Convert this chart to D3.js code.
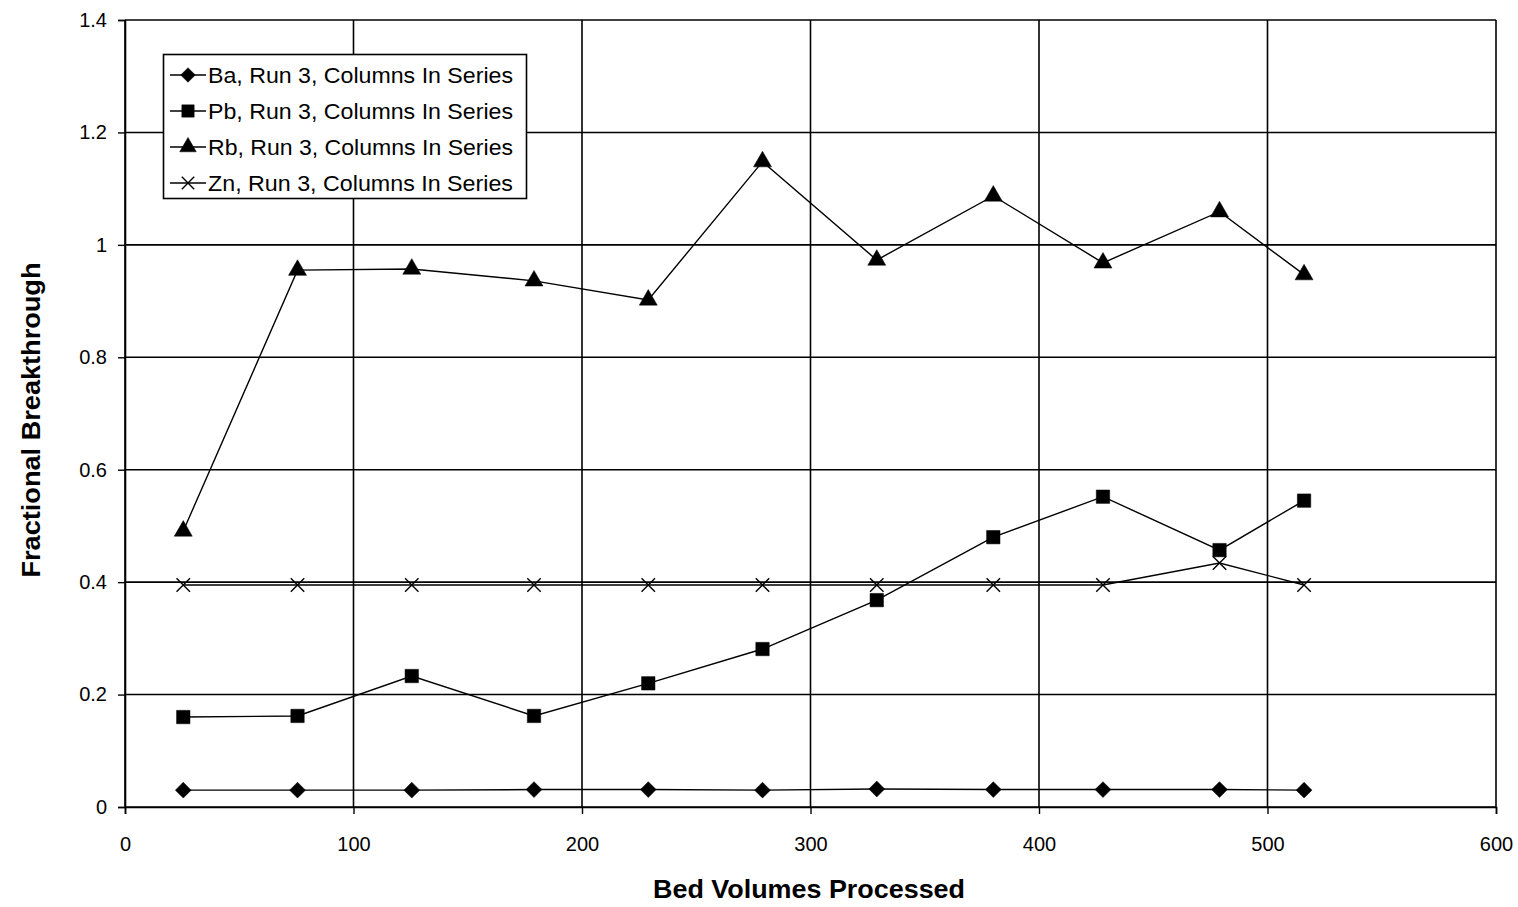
<!DOCTYPE html>
<html><head><meta charset="utf-8">
<script src="https://cdn.jsdelivr.net/npm/d3@7"></script>
<style>body{margin:0;background:#fff;} svg{display:block;font-family:"Liberation Sans",Arial,sans-serif;}</style>
</head><body>
<svg id="c" width="1518" height="907"></svg>
<script>
const bedVolumes = [25.5, 75.5, 125.5, 179, 229, 279, 329, 380, 428, 479, 516];
const ba = [0.03, 0.03, 0.03, 0.031, 0.031, 0.03, 0.032, 0.031, 0.031, 0.031, 0.03];
const pb = [0.16, 0.162, 0.233, 0.162, 0.22, 0.281, 0.368, 0.48, 0.552, 0.457, 0.545];
const rb = [0.491, 0.955, 0.957, 0.936, 0.902, 1.148, 0.973, 1.087, 0.968, 1.059, 0.947];
const zn = [0.395, 0.395, 0.395, 0.395, 0.395, 0.395, 0.395, 0.395, 0.395, 0.434, 0.395];
const seriesNames = ["Ba, Run 3, Columns In Series","Pb, Run 3, Columns In Series","Rb, Run 3, Columns In Series","Zn, Run 3, Columns In Series"];
const xTicks = [0,100,200,300,400,500,600];
const yTicks = [0,0.2,0.4,0.6,0.8,1,1.2,1.4];

const series = [
  {name: seriesNames[0], values: ba, sym: d3.symbolDiamond2, size: 160, fill: true},
  {name: seriesNames[1], values: pb, sym: d3.symbolSquare, size: 180, fill: true},
  {name: seriesNames[2], values: rb, sym: d3.symbolTriangle, size: 140, fill: true},
  {name: seriesNames[3], values: zn, sym: d3.symbolX, size: 120, fill: false}
];

const svg = d3.select("#c");
const L = 125, R = 1496, T = 20, B = 807;
const x = d3.scaleLinear().domain([0,600]).range([L,R]);
const y = d3.scaleLinear().domain([0,1.4]).range([B,T]);

// gridlines
svg.append("g").selectAll("line").data(yTicks).join("line")
  .attr("x1", L).attr("x2", R).attr("y1", d=>y(d)).attr("y2", d=>y(d))
  .attr("stroke","#000").attr("stroke-width",1.6);
svg.append("g").selectAll("line").data(xTicks).join("line")
  .attr("y1", T).attr("y2", B).attr("x1", d=>x(d)).attr("x2", d=>x(d))
  .attr("stroke","#000").attr("stroke-width",1.6);

// axes
const xAxis = d3.axisBottom(x).tickValues(xTicks).tickSize(7).tickPadding(23).tickFormat(d3.format("d"));
const yAxis = d3.axisLeft(y).tickValues(yTicks).tickSize(7).tickPadding(11).tickFormat(d => d===0?"0":(d===1?"1":d3.format(".1f")(d)));
const gx = svg.append("g").attr("transform",`translate(0,${B})`).call(xAxis);
const gy = svg.append("g").attr("transform",`translate(${L},0)`).call(yAxis);
[gx,gy].forEach(g=>{
  g.select(".domain").attr("stroke","#000").attr("stroke-width",1.6);
  g.selectAll(".tick line").attr("stroke","#000").attr("stroke-width",1.4);
  g.selectAll("text").attr("font-size",20).attr("fill","#000").attr("font-family","Liberation Sans, Arial, sans-serif");
});

// lines and markers
const line = d3.line().x((d,i)=>x(bedVolumes[i])).y(d=>y(d));
series.forEach(s=>{
  svg.append("path").attr("d", line(s.values)).attr("fill","none").attr("stroke","#000").attr("stroke-width",1.4);
  svg.append("g").selectAll("path").data(s.values).join("path")
    .attr("transform",(d,i)=>`translate(${x(bedVolumes[i])},${y(d)})`)
    .attr("d", d3.symbol().type(s.sym).size(s.size))
    .attr("fill", s.fill?"#000":"none").attr("stroke","#000").attr("stroke-width", s.fill?0.5:1.4);
});

// legend
const lg = svg.append("g");
lg.append("rect").attr("x",163.5).attr("y",54.5).attr("width",363).attr("height",144)
  .attr("fill","#fff").attr("stroke","#000").attr("stroke-width",1.6);
series.forEach((s,i)=>{
  const yy = 75 + i*36;
  lg.append("line").attr("x1",170).attr("x2",206).attr("y1",yy).attr("y2",yy).attr("stroke","#000").attr("stroke-width",1.4);
  lg.append("path").attr("transform",`translate(188,${yy})`).attr("d", d3.symbol().type(s.sym).size(s.size*0.85))
    .attr("fill", s.fill?"#000":"none").attr("stroke","#000").attr("stroke-width", s.fill?0.5:1.4);
  lg.append("text").attr("x",208).attr("y",yy+8).attr("font-size",22.5).attr("textLength",305).attr("lengthAdjust","spacingAndGlyphs").text(s.name);
});

// axis titles
svg.append("text").attr("x",809).attr("y",898).attr("text-anchor","middle")
  .attr("font-size",26).attr("font-weight","bold").attr("textLength",312).attr("lengthAdjust","spacingAndGlyphs").text("Bed Volumes Processed");
svg.append("text").attr("transform",`translate(40,420) rotate(-90)`).attr("text-anchor","middle")
  .attr("font-size",26).attr("font-weight","bold").attr("textLength",315).attr("lengthAdjust","spacingAndGlyphs").text("Fractional Breakthrough");
</script>
</body></html>
